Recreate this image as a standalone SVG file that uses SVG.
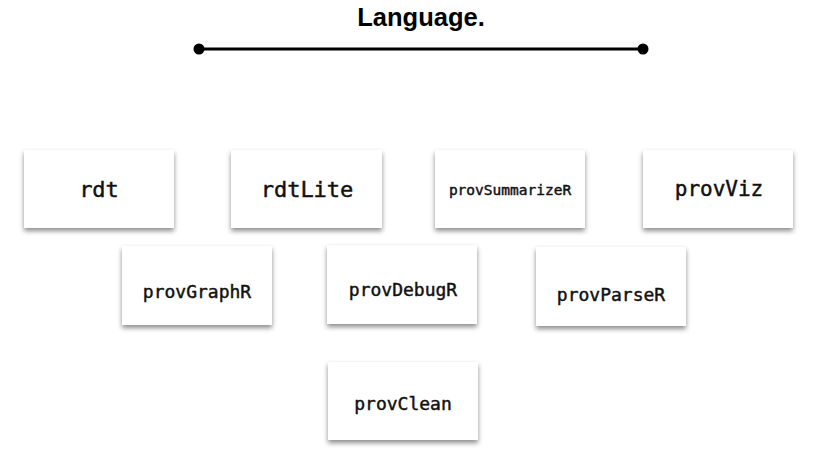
<svg xmlns="http://www.w3.org/2000/svg" width="816" height="452" viewBox="0 0 816 452">
<style>
.box{fill:#fff;filter:url(#sh)}
.t{font-family:"DejaVu Sans Mono","Liberation Mono",monospace;fill:#111;stroke:#111;stroke-width:0.45;text-anchor:middle}
.title{font-family:"Liberation Sans",Arial,sans-serif;font-weight:bold;font-size:25.5px;text-anchor:middle;fill:#000}
</style>
<defs>
<filter id="sh" x="-20%" y="-20%" width="140%" height="150%">
<feDropShadow dx="0" dy="3" stdDeviation="2.5" flood-color="#000" flood-opacity="0.45"/>
</filter>
</defs>
<rect width="816" height="452" fill="#fff"/>
<text class="title" x="421" y="26">Language.</text>
<g id="connectors">
<line x1="199" y1="49" x2="643" y2="49" stroke="#000" stroke-width="3"/>
<circle cx="199" cy="49" r="5.5" fill="#000"/>
<circle cx="643" cy="49" r="5.5" fill="#000"/>
</g>
<g id="rdt"><rect class="box" x="24" y="150" width="150" height="78"/><text class="t" x="99" y="197" font-size="22">rdt</text></g>
<g id="rdtLite"><rect class="box" x="231" y="150" width="151" height="78"/><text class="t" x="307" y="197" font-size="22">rdtLite</text></g>
<g id="provSummarizeR"><rect class="box" x="435" y="150" width="150" height="78"/><text class="t" x="510" y="195" font-size="14.5">provSummarizeR</text></g>
<g id="provViz"><rect class="box" x="643" y="150" width="150" height="78"/><text class="t" x="719" y="196" font-size="21">provViz</text></g>
<g id="provGraphR"><rect class="box" x="122" y="246" width="150" height="79"/><text class="t" x="197" y="298" font-size="18">provGraphR</text></g>
<g id="provDebugR"><rect class="box" x="327" y="245" width="150" height="79"/><text class="t" x="403" y="296" font-size="18">provDebugR</text></g>
<g id="provParseR"><rect class="box" x="536" y="247" width="150" height="79"/><text class="t" x="611" y="301" font-size="18">provParseR</text></g>
<g id="provClean"><rect class="box" x="328" y="362" width="150" height="78"/><text class="t" x="403" y="410" font-size="18">provClean</text></g>
</svg>
